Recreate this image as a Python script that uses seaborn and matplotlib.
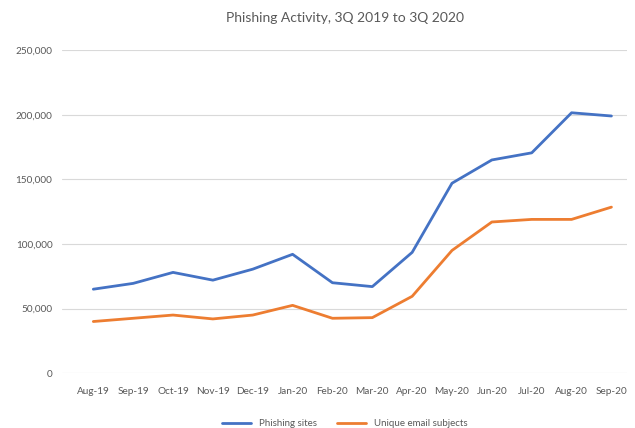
import numpy as np
import pandas as pd
import matplotlib
matplotlib.use('Agg')
import matplotlib.pyplot as plt
import seaborn as sns
from matplotlib.ticker import FuncFormatter

months = ['Aug-19', 'Sep-19', 'Oct-19', 'Nov-19', 'Dec-19', 'Jan-20', 'Feb-20',
          'Mar-20', 'Apr-20', 'May-20', 'Jun-20', 'Jul-20', 'Aug-20', 'Sep-20']
phishing_sites = [65000, 69500, 78000, 72000, 80500, 92000, 70000,
                  67000, 93500, 147000, 165000, 170500, 201500, 199000]
email_subjects = [40000, 42500, 45000, 42000, 45000, 52500, 42500,
                  43000, 59500, 95000, 117000, 119000, 119000, 128500]
series_names = ['Phishing sites', 'Unique email subjects']

df = pd.DataFrame({'month': months * 2,
                   'value': phishing_sites + email_subjects,
                   'series': [series_names[0]] * len(months) + [series_names[1]] * len(months)})
df['pos'] = list(range(len(months))) * 2

sns.set_style('white')
plt.rcParams['font.family'] = ['Lato', 'DejaVu Sans']
text_col = '#595959'

fig = plt.figure(figsize=(6.35, 4.28), dpi=100)
ax = fig.add_axes([0.098, 0.128, 0.89, 0.755])

sns.lineplot(data=df, x='pos', y='value', hue='series', hue_order=series_names,
             palette=['#4472C4', '#ED7D31'], linewidth=2.0, ax=ax, legend=True)

ax.set_ylim(0, 250000)
ax.set_yticks(range(0, 250001, 50000))
ax.yaxis.set_major_formatter(FuncFormatter(lambda v, p: f'{int(v):,}'))
ax.set_xlim(-0.78, len(months) - 0.6)
ax.set_xticks(range(len(months)))
ax.set_xticklabels(months)
ax.tick_params(axis='both', labelsize=7.2, colors=text_col, length=0)
ax.tick_params(axis='x', pad=10)
ax.tick_params(axis='y', pad=7)
ax.grid(axis='y', color='#D9D9D9', linewidth=0.8)
ax.set_axisbelow(True)
for s in ax.spines.values():
    s.set_visible(False)
ax.set_xlabel('')
ax.set_ylabel('')

ax.set_title('Phishing Activity, 3Q 2019 to 3Q 2020', fontsize=10, color=text_col, pad=20)

leg = ax.legend(loc='upper center', bbox_to_anchor=(0.5, -0.115), ncol=2, frameon=False,
                fontsize=7, handlelength=3, columnspacing=2)
for t in leg.get_texts():
    t.set_color(text_col)

fig.savefig('out.png', dpi=100)
